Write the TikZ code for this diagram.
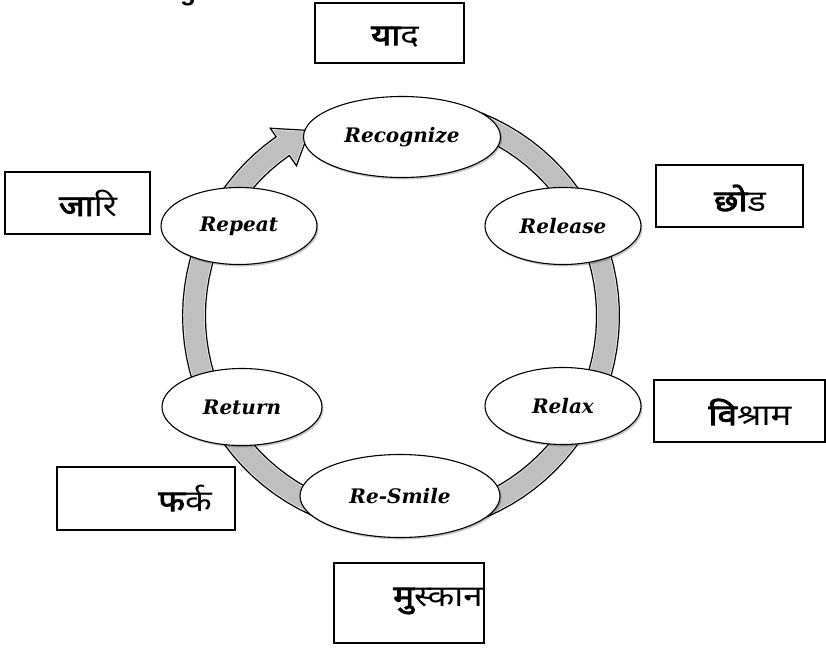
\documentclass[tikz,border=0pt]{standalone}
\usepackage{fontspec}
\newfontfamily\deva[Script=Devanagari, FakeStretch=1.18]{Noto Sans}
\newfontfamily\devab[Script=Devanagari, FakeStretch=1.18, FakeBold=3]{Noto Sans}
\newfontfamily\arialf{Liberation Sans}
\newfontfamily\stagefont{DejaVu Serif}
\usetikzlibrary{shapes.geometric,shadows}
\newcommand\bandpath{plot[domain=270:595,samples=90] ({401+219*cos(\x)},{316+219*sin(\x)}) -- ({401+230*cos(595)},{316+230*sin(595)}) -- ({401+207*cos(604)},{316+207*sin(604)}) -- ({401+182*cos(595)},{316+182*sin(595)}) -- plot[domain=595:270,samples=90] ({401+195*cos(\x)},{316+195*sin(\x)}) -- cycle}
\begin{document}
\begin{tikzpicture}[x=1pt,y=-1pt,
  stage/.style={ellipse, draw=black, line width=1.1pt, fill=white, inner sep=0pt,
    font=\fontsize{20}{23}\selectfont\stagefont\bfseries\itshape,
    drop shadow={shadow xshift=1.5pt, shadow yshift=-2pt, opacity=0.22, fill=black}},
  hbox/.style={draw=black, line width=1.4pt, inner sep=0pt},
  hindi/.style={font=\fontsize{29.5}{32}\selectfont\deva, inner sep=0pt}]
\useasboundingbox (0,0) rectangle (826,647);
\fill[white] (0,0) rectangle (826,647);
% cut-off text at the top
\node[anchor=base, inner sep=0pt, font=\fontsize{26}{30}\selectfont\arialf\bfseries] (topg) at (188,1) {g};
% ring
\fill[gray!50] \bandpath;
\begin{scope}
  \clip \bandpath;
  \draw[white, line width=3.8pt] \bandpath;
  \draw[black, line width=2.4pt] \bandpath;
\end{scope}
% stages
\node[stage, minimum width=197pt, minimum height=81pt] (recognize) at (402,137) {Recognize};
\node[stage, minimum width=156pt, minimum height=77pt] (release) at (563,226) {Release};
\node[stage, minimum width=156pt, minimum height=77pt] (relax) at (563,406) {Relax};
\node[stage, minimum width=200pt, minimum height=83pt] (resmile) at (400,496) {Re-Smile};
\node[stage, minimum width=160pt, minimum height=77pt] (return) at (242,407) {Return};
\node[stage, minimum width=156pt, minimum height=77pt] (repeat) at (239,226) {Repeat};
% boxes
\node[hbox, minimum width=149pt, minimum height=60pt] (byad) at (389.5,33) {};
\node[hbox, minimum width=145pt, minimum height=62pt] (bjari) at (77.5,203) {};
\node[hbox, minimum width=147pt, minimum height=62pt] (bchhod) at (729.5,196) {};
\node[hbox, minimum width=171pt, minimum height=62pt] (bvishram) at (739.5,411) {};
\node[hbox, minimum width=178pt, minimum height=63pt] (bfark) at (146,498.5) {};
\node[hbox, minimum width=150pt, minimum height=80pt] (bmuskan) at (409,603) {};
% box texts
\node[hindi] (tyad) at (395,37) {{\devab या}द};
\node[hindi] (tjari) at (88,203) {{\devab जा}रि};
\node[hindi] (tchhod) at (740,198) {{\devab छो}ड};
\node[hindi] (tvishram) at (750,412) {{\devab वि}श्राम};
\node[hindi] (tfark) at (185,498) {{\devab फ}र्क};
\node[hindi] (tmuskan) at (438,601) {{\devab मु}स्कान};
\end{tikzpicture}
\end{document}
